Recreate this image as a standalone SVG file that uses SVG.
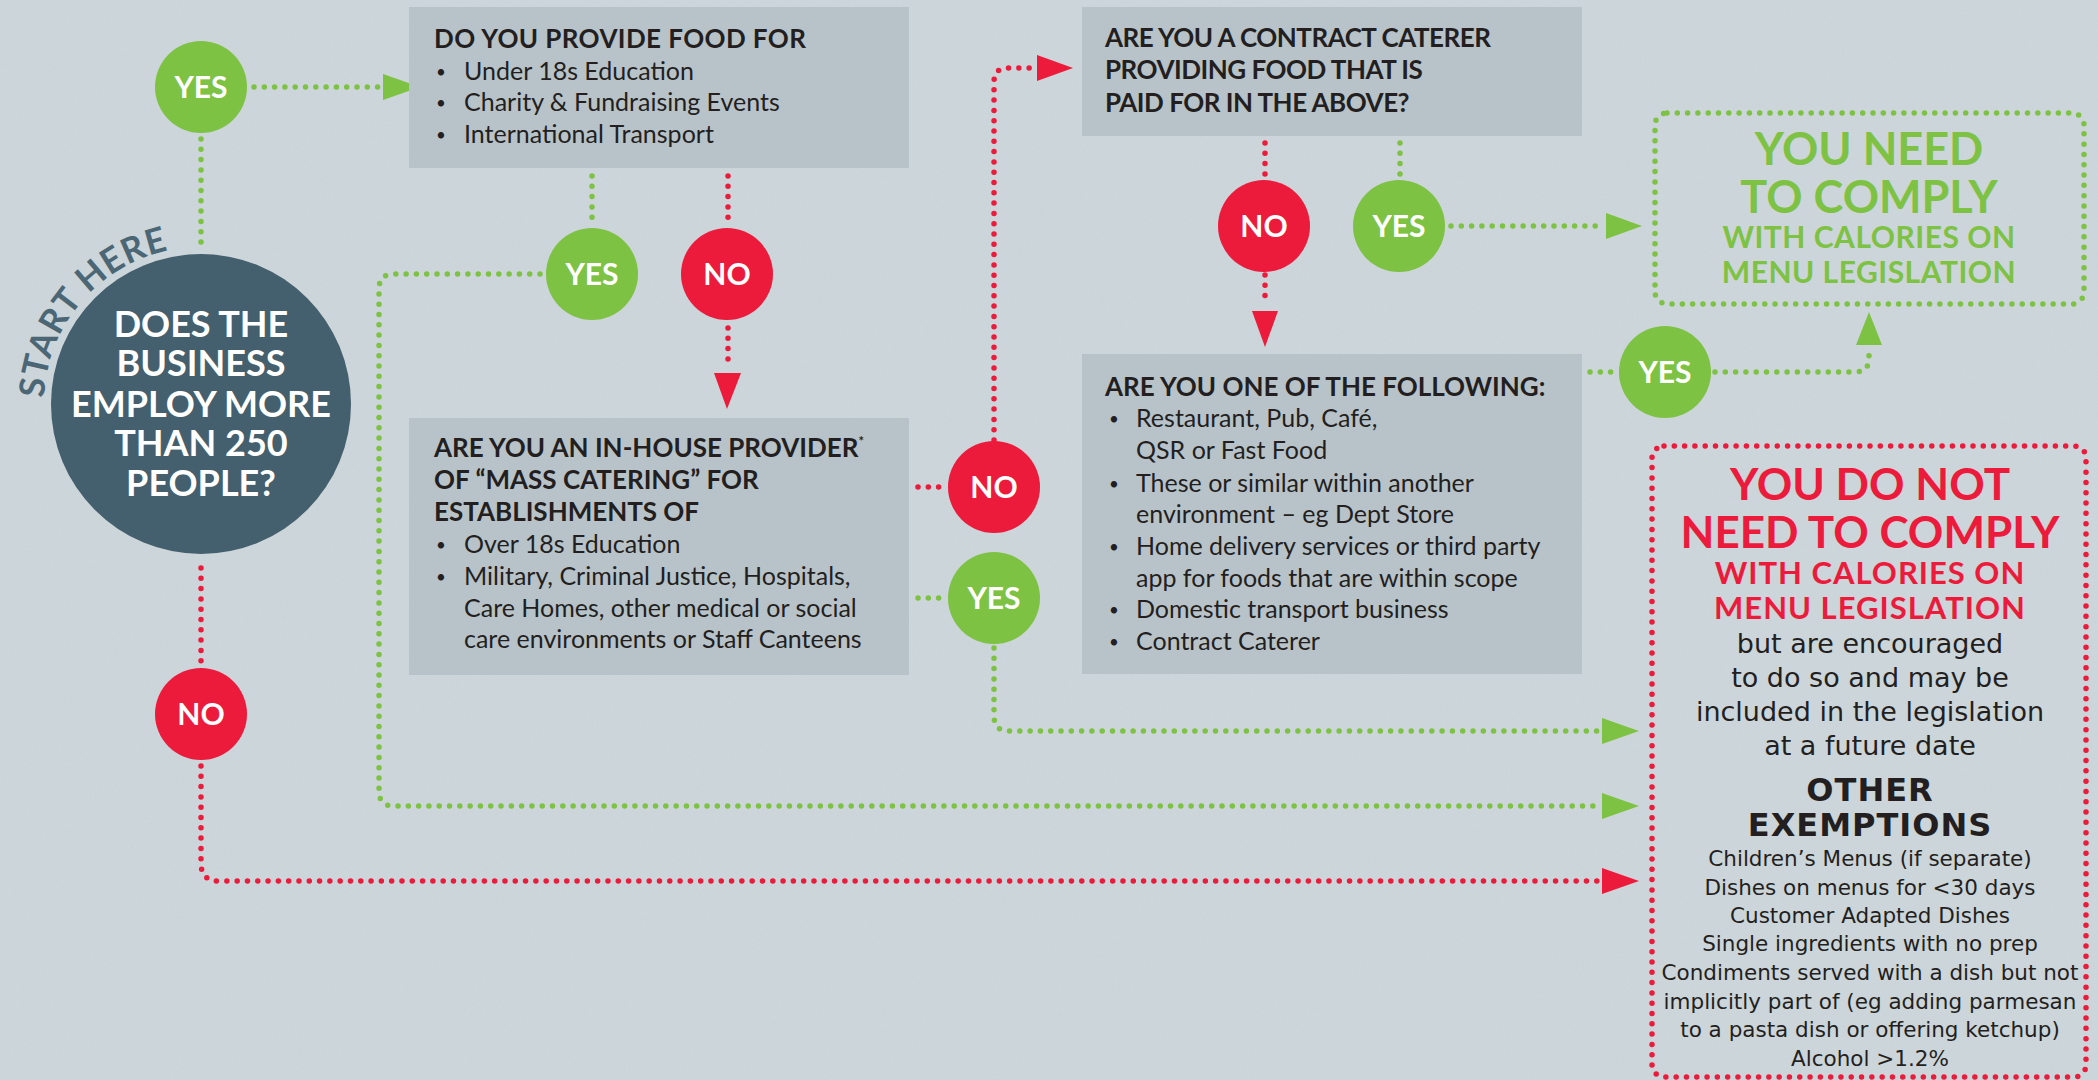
<svg xmlns="http://www.w3.org/2000/svg" width="2098" height="1080" viewBox="0 0 2098 1080">
<defs>
<style>
.bg{fill:#cdd6da}
.box{fill:#b8c3c9}
.g{fill:none;stroke:#7dc243;stroke-width:5.5;stroke-linecap:round;stroke-dasharray:0 10.3}
.r{fill:none;stroke:#ec1a3b;stroke-width:5.5;stroke-linecap:round;stroke-dasharray:0 10.3}
.ga{fill:#7dc243}
.ra{fill:#ec1a3b}
.cy{fill:#7dc243}
.cn{fill:#ec1a3b}
.ct{font-family:Lato,"Liberation Sans",sans-serif;font-weight:700;font-size:30px;fill:#fff;text-anchor:middle}
.h{font-family:Lato,"Liberation Sans",sans-serif;font-weight:700;font-size:26px;fill:#231f20}
.b{font-family:Lato,"Liberation Sans",sans-serif;font-size:25px;fill:#231f20}
.bu{font-family:Lato,"Liberation Sans",sans-serif;font-size:17px;fill:#231f20;text-anchor:middle}
.big{font-family:Lato,"Liberation Sans",sans-serif;font-weight:700;font-size:36px;fill:#fff;text-anchor:middle}
.gt{font-family:Lato,"Liberation Sans",sans-serif;font-weight:700;fill:#7dc243;text-anchor:middle}
.rt{font-family:Lato,"Liberation Sans",sans-serif;font-weight:700;fill:#ec1a3b;text-anchor:middle}
.dt{font-family:"DejaVu Sans",sans-serif;fill:#231f20;text-anchor:middle}
</style>
<filter id="paper" x="0" y="0" width="100%" height="100%">
<feTurbulence type="fractalNoise" baseFrequency="0.9" numOctaves="2" seed="3"/>
<feColorMatrix type="matrix" values="0 0 0 0 0.45  0 0 0 0 0.5  0 0 0 0 0.53  0 0 0 -1.2 0.9"/>
</filter>
<path id="arc" d="M 44 398 A 157 157 0 0 1 201 247"/>
</defs>
<rect class="bg" x="0" y="0" width="2098" height="1080"/>
<rect x="0" y="0" width="2098" height="1080" filter="url(#paper)" opacity="0.12"/>

<g id="connectors">
<path class="g" d="M 254 87 H 380"/>
<polygon class="ga" points="383,74 420,87 383,100"/>
<path class="g" d="M 201 139 V 246"/>
<path class="g" d="M 592 176 V 222"/>
<path class="g" d="M 540 274 H 394 Q 379 274 379 289 V 791 Q 379 806 394 806 H 1598"/>
<polygon class="ga" points="1602,793 1639,806 1602,819"/>
<path class="r" d="M 728 176 V 222"/>
<path class="r" d="M 728 328 V 366"/>
<polygon class="ra" points="714,373 741,373 727,409"/>
<path class="r" d="M 918 487 H 944"/>
<path class="r" d="M 994 440 V 82 Q 994 68 1008 68 H 1030"/>
<polygon class="ra" points="1037,55 1073,68 1037,81"/>
<path class="g" d="M 918 598 H 944"/>
<path class="g" d="M 994 648 V 716 Q 994 731 1009 731 H 1598"/>
<polygon class="ga" points="1602,718 1639,731 1602,744"/>
<path class="r" d="M 1265 143 V 178"/>
<path class="r" d="M 1265 275 V 305"/>
<polygon class="ra" points="1252,311 1278,311 1265,347"/>
<path class="g" d="M 1400 143 V 178"/>
<path class="g" d="M 1451 226 H 1600"/>
<polygon class="ga" points="1606,213 1642,226 1606,239"/>
<path class="g" d="M 1590 372 H 1614"/>
<path class="g" d="M 1715 372 H 1855 Q 1869 372 1869 358 V 350"/>
<polygon class="ga" points="1856,345 1882,345 1869,312"/>
<path class="r" d="M 201 568 V 666"/>
<path class="r" d="M 201 766 V 863 Q 201 881 219 881 H 1598"/>
<polygon class="ra" points="1602,868 1639,881 1602,894"/>
</g>

<g id="start">
<circle cx="201" cy="404" r="150" fill="#445f6d"/>
<text class="big" x="201" y="337">DOES THE</text>
<text class="big" x="201" y="376">BUSINESS</text>
<text class="big" x="201" y="417">EMPLOY MORE</text>
<text class="big" x="201" y="456">THAN 250</text>
<text class="big" x="201" y="496">PEOPLE?</text>
<text font-family="Lato,'Liberation Sans',sans-serif" font-weight="700" font-size="35" fill="#4b6674" letter-spacing="0.6"><textPath href="#arc">START HERE</textPath></text>
</g>

<g id="yes1"><circle class="cy" cx="201" cy="87" r="46"/><text class="ct" x="201" y="98">YES</text></g>
<g id="yes2"><circle class="cy" cx="592" cy="274" r="46"/><text class="ct" x="592" y="285">YES</text></g>
<g id="no1"><circle class="cn" cx="727" cy="274" r="46"/><text class="ct" x="727" y="285">NO</text></g>
<g id="no2"><circle class="cn" cx="994" cy="487" r="46"/><text class="ct" x="994" y="498">NO</text></g>
<g id="yes3"><circle class="cy" cx="994" cy="598" r="46"/><text class="ct" x="994" y="609">YES</text></g>
<g id="no3"><circle class="cn" cx="1264" cy="226" r="46"/><text class="ct" x="1264" y="237">NO</text></g>
<g id="yes4"><circle class="cy" cx="1399" cy="226" r="46"/><text class="ct" x="1399" y="237">YES</text></g>
<g id="yes5"><circle class="cy" cx="1665" cy="372" r="46"/><text class="ct" x="1665" y="383">YES</text></g>
<g id="no4"><circle class="cn" cx="201" cy="714" r="46"/><text class="ct" x="201" y="725">NO</text></g>

<g id="box1">
<rect class="box" x="409" y="7" width="500" height="161"/>
<text class="h" x="434" y="48" letter-spacing="0.4">DO YOU PROVIDE FOOD FOR</text>
<text class="bu" x="441" y="78">•</text><text class="b" x="464" y="80">Under 18s Education</text>
<text class="bu" x="441" y="109">•</text><text class="b" x="464" y="111">Charity &amp; Fundraising Events</text>
<text class="bu" x="441" y="141">•</text><text class="b" x="464" y="143">International Transport</text>
</g>

<g id="box2">
<rect class="box" x="409" y="418" width="500" height="257"/>
<text class="h" x="434" y="457">ARE YOU AN IN-HOUSE PROVIDER<tspan font-size="13" dy="-11">*</tspan></text>
<text class="h" x="434" y="489">OF “MASS CATERING” FOR</text>
<text class="h" x="434" y="521">ESTABLISHMENTS OF</text>
<text class="bu" x="441" y="551">•</text><text class="b" x="464" y="553">Over 18s Education</text>
<text class="bu" x="441" y="583">•</text><text class="b" x="464" y="585">Military, Criminal Justice, Hospitals,</text>
<text class="b" x="464" y="617">Care Homes, other medical or social</text>
<text class="b" x="464" y="648">care environments or Staff Canteens</text>
</g>

<g id="box3">
<rect class="box" x="1082" y="7" width="500" height="129"/>
<text class="h" x="1105" y="47" letter-spacing="-0.5">ARE YOU A CONTRACT CATERER</text>
<text class="h" x="1105" y="79" letter-spacing="-0.5">PROVIDING FOOD THAT IS</text>
<text class="h" x="1105" y="112" letter-spacing="-0.5">PAID FOR IN THE ABOVE?</text>
</g>

<g id="box4">
<rect class="box" x="1082" y="354" width="500" height="320"/>
<text class="h" x="1105" y="396">ARE YOU ONE OF THE FOLLOWING:</text>
<text class="bu" x="1114" y="425">•</text><text class="b" x="1136" y="427">Restaurant, Pub, Café,</text>
<text class="b" x="1136" y="459">QSR or Fast Food</text>
<text class="bu" x="1114" y="490">•</text><text class="b" x="1136" y="492">These or similar within another</text>
<text class="b" x="1136" y="523">environment – eg Dept Store</text>
<text class="bu" x="1114" y="553">•</text><text class="b" x="1136" y="555">Home delivery services or third party</text>
<text class="b" x="1136" y="587">app for foods that are within scope</text>
<text class="bu" x="1114" y="616">•</text><text class="b" x="1136" y="618">Domestic transport business</text>
<text class="bu" x="1114" y="648">•</text><text class="b" x="1136" y="650">Contract Caterer</text>
</g>

<g id="comply">
<rect class="g" x="1655" y="113" width="429" height="191" rx="12"/>
<text class="gt" x="1869" y="165" font-size="45">YOU NEED</text>
<text class="gt" x="1869" y="213" font-size="45">TO COMPLY</text>
<text class="gt" x="1869" y="248" font-size="30" letter-spacing="0.5">WITH CALORIES ON</text>
<text class="gt" x="1869" y="283" font-size="30" letter-spacing="0.5">MENU LEGISLATION</text>
</g>

<g id="notcomply">
<rect class="r" x="1652" y="446" width="434" height="631" rx="12"/>
<text class="rt" x="1870" y="500" font-size="44">YOU DO NOT</text>
<text class="rt" x="1870" y="548" font-size="44">NEED TO COMPLY</text>
<text class="rt" x="1870" y="584" font-size="31" letter-spacing="1">WITH CALORIES ON</text>
<text class="rt" x="1870" y="619" font-size="31" letter-spacing="1">MENU LEGISLATION</text>
<text class="dt" x="1870" y="653" font-size="27">but are encouraged</text>
<text class="dt" x="1870" y="687" font-size="27">to do so and may be</text>
<text class="dt" x="1870" y="721" font-size="27">included in the legislation</text>
<text class="dt" x="1870" y="755" font-size="27">at a future date</text>
<text class="dt" x="1870" y="801" font-size="32" font-weight="700" letter-spacing="1">OTHER</text>
<text class="dt" x="1870" y="836" font-size="32" font-weight="700" letter-spacing="1">EXEMPTIONS</text>
<text class="dt" x="1870" y="866" font-size="21.5">Children’s Menus (if separate)</text>
<text class="dt" x="1870" y="895" font-size="21.5">Dishes on menus for &lt;30 days</text>
<text class="dt" x="1870" y="923" font-size="21.5">Customer Adapted Dishes</text>
<text class="dt" x="1870" y="951" font-size="21.5">Single ingredients with no prep</text>
<text class="dt" x="1870" y="980" font-size="21.5">Condiments served with a dish but not</text>
<text class="dt" x="1870" y="1009" font-size="21.5">implicitly part of (eg adding parmesan</text>
<text class="dt" x="1870" y="1037" font-size="21.5">to a pasta dish or offering ketchup)</text>
<text class="dt" x="1870" y="1066" font-size="21.5">Alcohol &gt;1.2%</text>
</g>
</svg>
